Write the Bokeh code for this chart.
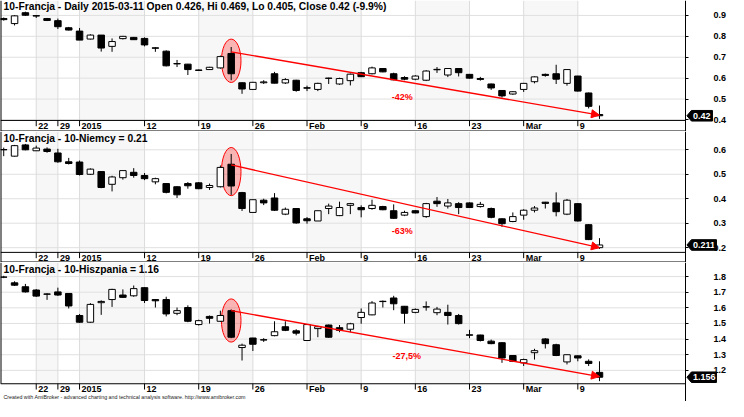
from bokeh.plotting import figure
from bokeh.layouts import column
from bokeh.models import (Range1d, FixedTicker, PrintfTickFormatter, ColumnDataSource,
                          Arrow, NormalHead)
from bokeh.embed import file_html
from bokeh.resources import INLINE
from bokeh.core.properties import value

# ---------------- data ----------------
dates = ["2014-12-17", "2014-12-18", "2014-12-19", "2014-12-22", "2014-12-23", "2014-12-29", "2014-12-30",
         "2015-01-02", "2015-01-05", "2015-01-06", "2015-01-07", "2015-01-08", "2015-01-09",
         "2015-01-12", "2015-01-13", "2015-01-14", "2015-01-15", "2015-01-16",
         "2015-01-19", "2015-01-20", "2015-01-21", "2015-01-22", "2015-01-23",
         "2015-01-26", "2015-01-27", "2015-01-28", "2015-01-29", "2015-01-30",
         "2015-02-02", "2015-02-03", "2015-02-04", "2015-02-05", "2015-02-06",
         "2015-02-09", "2015-02-10", "2015-02-11", "2015-02-12", "2015-02-13",
         "2015-02-16", "2015-02-17", "2015-02-18", "2015-02-19", "2015-02-20",
         "2015-02-23", "2015-02-24", "2015-02-25", "2015-02-26", "2015-02-27",
         "2015-03-02", "2015-03-03", "2015-03-04", "2015-03-05", "2015-03-06",
         "2015-03-09", "2015-03-10", "2015-03-11"]

week_dates = ["2014-12-22", "2014-12-29", "2015-01-02", "2015-01-12", "2015-01-19", "2015-01-26",
              "2015-02-02", "2015-02-09", "2015-02-16", "2015-02-23", "2015-03-02", "2015-03-09"]
week_labels = ["22", "29", "2015", "12", "19", "26", "Feb", "9", "16", "23", "Mar", "9"]

# 10-Francja
fr_open = [0.885, 0.861, 0.913, 0.899, 0.885, 0.875, 0.841, 0.825, 0.787, 0.806, 0.752, 0.789, 0.795, 0.790,
           0.745, 0.729, 0.668, 0.667, 0.639, 0.641, 0.649, 0.718, 0.578, 0.546, 0.578, 0.621, 0.577, 0.590,
           0.554, 0.546, 0.600, 0.572, 0.588, 0.626, 0.621, 0.646, 0.621, 0.603, 0.595, 0.590, 0.640, 0.615,
           0.646, 0.618, 0.598, 0.572, 0.541, 0.524, 0.546, 0.583, 0.618, 0.621, 0.575, 0.610, 0.529, 0.426]
fr_high = [0.890, 0.902, 0.918, 0.901, 0.888, 0.885, 0.845, 0.840, 0.810, 0.806, 0.790, 0.802, 0.797, 0.795,
           0.748, 0.733, 0.687, 0.668, 0.641, 0.654, 0.708, 0.749, 0.580, 0.582, 0.590, 0.630, 0.600, 0.592,
           0.564, 0.578, 0.602, 0.602, 0.622, 0.630, 0.655, 0.648, 0.626, 0.609, 0.614, 0.638, 0.653, 0.647,
           0.648, 0.620, 0.606, 0.574, 0.543, 0.537, 0.577, 0.608, 0.622, 0.664, 0.642, 0.611, 0.531, 0.469]
fr_low = [0.875, 0.852, 0.898, 0.888, 0.873, 0.835, 0.828, 0.782, 0.785, 0.727, 0.726, 0.785, 0.783, 0.752,
          0.726, 0.656, 0.653, 0.615, 0.636, 0.640, 0.645, 0.590, 0.525, 0.544, 0.572, 0.575, 0.572, 0.535,
          0.538, 0.538, 0.572, 0.568, 0.565, 0.605, 0.618, 0.628, 0.590, 0.590, 0.590, 0.586, 0.625, 0.605,
          0.608, 0.598, 0.588, 0.544, 0.507, 0.520, 0.534, 0.575, 0.607, 0.572, 0.564, 0.536, 0.455, 0.405]
fr_close = [0.880, 0.898, 0.901, 0.897, 0.876, 0.846, 0.830, 0.782, 0.806, 0.744, 0.775, 0.800, 0.784, 0.759,
            0.743, 0.659, 0.670, 0.641, 0.637, 0.652, 0.703, 0.621, 0.548, 0.580, 0.582, 0.576, 0.593, 0.541,
            0.552, 0.575, 0.599, 0.598, 0.619, 0.607, 0.649, 0.630, 0.592, 0.595, 0.610, 0.634, 0.642, 0.646,
            0.626, 0.600, 0.594, 0.553, 0.515, 0.535, 0.575, 0.606, 0.613, 0.595, 0.641, 0.538, 0.465, 0.420]

# 10-Francja - 10-Niemcy
de_open = [0.600, 0.574, 0.620, 0.596, 0.603, 0.587, 0.551, 0.550, 0.500, 0.511, 0.459, 0.486, 0.508, 0.495,
           0.469, 0.462, 0.449, 0.462, 0.465, 0.446, 0.449, 0.541, 0.425, 0.344, 0.394, 0.403, 0.337, 0.360,
           0.318, 0.309, 0.360, 0.331, 0.373, 0.364, 0.360, 0.368, 0.351, 0.333, 0.351, 0.327, 0.390, 0.370,
           0.380, 0.383, 0.368, 0.360, 0.318, 0.307, 0.333, 0.353, 0.386, 0.383, 0.337, 0.380, 0.294, 0.200]
de_high = [0.609, 0.620, 0.624, 0.617, 0.610, 0.604, 0.567, 0.556, 0.524, 0.513, 0.494, 0.515, 0.525, 0.505,
           0.486, 0.464, 0.451, 0.468, 0.468, 0.462, 0.536, 0.583, 0.428, 0.396, 0.400, 0.423, 0.364, 0.362,
           0.325, 0.351, 0.380, 0.388, 0.383, 0.373, 0.396, 0.371, 0.377, 0.351, 0.353, 0.383, 0.407, 0.399,
           0.386, 0.385, 0.387, 0.364, 0.320, 0.344, 0.357, 0.370, 0.387, 0.426, 0.399, 0.382, 0.296, 0.239]
de_low = [0.574, 0.572, 0.598, 0.595, 0.588, 0.547, 0.540, 0.495, 0.498, 0.443, 0.430, 0.478, 0.486, 0.476,
          0.459, 0.422, 0.403, 0.441, 0.439, 0.436, 0.446, 0.416, 0.350, 0.344, 0.374, 0.350, 0.333, 0.298,
          0.298, 0.309, 0.337, 0.329, 0.337, 0.324, 0.355, 0.353, 0.318, 0.329, 0.340, 0.322, 0.367, 0.360,
          0.337, 0.362, 0.364, 0.320, 0.285, 0.304, 0.314, 0.344, 0.360, 0.328, 0.333, 0.307, 0.231, 0.195]
de_close = [0.601, 0.617, 0.600, 0.607, 0.593, 0.551, 0.544, 0.499, 0.521, 0.446, 0.489, 0.515, 0.495, 0.482,
            0.482, 0.426, 0.416, 0.453, 0.441, 0.454, 0.528, 0.452, 0.360, 0.396, 0.383, 0.353, 0.357, 0.301,
            0.310, 0.351, 0.370, 0.364, 0.380, 0.355, 0.373, 0.355, 0.320, 0.344, 0.342, 0.380, 0.380, 0.383,
            0.364, 0.364, 0.377, 0.324, 0.298, 0.327, 0.353, 0.362, 0.381, 0.347, 0.394, 0.309, 0.233, 0.211]

# 10-Francja - 10-Hiszpania
es_open = [1.796, 1.760, 1.735, 1.714, 1.689, 1.702, 1.692, 1.551, 1.508, 1.633, 1.653, 1.682, 1.677, 1.729,
           1.653, 1.653, 1.565, 1.602, 1.493, 1.545, 1.514, 1.582, 1.346, 1.407, 1.396, 1.422, 1.479, 1.453,
           1.391, 1.467, 1.490, 1.473, 1.463, 1.538, 1.555, 1.642, 1.663, 1.610, 1.571, 1.605, 1.569, 1.571,
           1.551, 1.427, 1.426, 1.387, 1.377, 1.295, 1.248, 1.313, 1.401, 1.364, 1.254, 1.293, 1.258, 1.187]
es_high = [1.805, 1.770, 1.753, 1.720, 1.693, 1.729, 1.694, 1.560, 1.630, 1.648, 1.722, 1.718, 1.743, 1.731,
           1.654, 1.671, 1.602, 1.616, 1.524, 1.551, 1.582, 1.590, 1.371, 1.408, 1.406, 1.514, 1.514, 1.463,
           1.493, 1.485, 1.493, 1.490, 1.504, 1.596, 1.643, 1.647, 1.677, 1.612, 1.596, 1.641, 1.606, 1.620,
           1.561, 1.459, 1.428, 1.397, 1.380, 1.297, 1.275, 1.338, 1.406, 1.370, 1.300, 1.295, 1.270, 1.258]
es_low = [1.790, 1.740, 1.698, 1.670, 1.651, 1.676, 1.596, 1.504, 1.504, 1.555, 1.606, 1.663, 1.671, 1.631,
          1.602, 1.545, 1.553, 1.508, 1.487, 1.499, 1.510, 1.406, 1.263, 1.324, 1.382, 1.418, 1.451, 1.424,
          1.388, 1.412, 1.408, 1.444, 1.444, 1.498, 1.553, 1.602, 1.585, 1.499, 1.565, 1.582, 1.553, 1.493,
          1.493, 1.406, 1.385, 1.367, 1.248, 1.253, 1.228, 1.269, 1.340, 1.291, 1.238, 1.258, 1.228, 1.131]
es_close = [1.797, 1.745, 1.702, 1.675, 1.687, 1.682, 1.612, 1.508, 1.622, 1.641, 1.718, 1.667, 1.723, 1.647,
            1.645, 1.561, 1.582, 1.514, 1.518, 1.533, 1.551, 1.412, 1.361, 1.367, 1.394, 1.447, 1.456, 1.438,
            1.493, 1.479, 1.412, 1.456, 1.498, 1.571, 1.631, 1.640, 1.626, 1.565, 1.590, 1.607, 1.592, 1.551,
            1.499, 1.425, 1.391, 1.371, 1.279, 1.258, 1.269, 1.326, 1.371, 1.295, 1.300, 1.279, 1.244, 1.156]

titles = ["10-Francja - Daily 2015-03-11 Open 0.426, Hi 0.469, Lo 0.405, Close 0.42 (-9.9%)",
          "10-Francja - 10-Niemcy = 0.21",
          "10-Francja - 10-Hiszpania = 1.16"]
ticks_fr = [0.4, 0.5, 0.6, 0.7, 0.8, 0.9]
ticks_de = [0.2, 0.3, 0.4, 0.5, 0.6]
ticks_es = [1.2, 1.3, 1.4, 1.5, 1.6, 1.7, 1.8]

# annotated moves (from the 2015-01-22 bar to the last bar)
trend_x = [21, 55]
trend_fr = [0.726, 0.423]
trend_de = [0.538, 0.200]
trend_es = [1.582, 1.160]
circle_fr = 0.683
circle_de = 0.511
circle_es = 1.519
pct_labels = ["-42%", "-63%", "-27,5%"]
pct_x = [36.8, 36.8, 37.2]
pct_y = [0.511, 0.268, 1.289]
last_labels = ["0.42", "0.211", "1.156"]
last_values = [0.420, 0.211, 1.156]
footer = "Created with AmiBroker - advanced charting and technical analysis software. http://www.amibroker.com"

# ---------------- layout ----------------
FONT = "Liberation Sans"
FIG_W = 728
REF_PX = 11.07            # bar spacing in the original picture
XS = -3.3 / REF_PX        # left edge of the picture
XE = (744 - 3.3) / REF_PX  # right edge of the picture
XA = (700 - 3.3) / REF_PX  # price-axis line
PPI = FIG_W / (XE - XS)
idx = list(range(len(dates)))
week_idx = [dates.index(d) for d in week_dates]


def pane(h, ymap, top_px, bottom_px, axis_px, date_px, title_px, ticks, O, H, L, C, title,
         trend_y, circle_c, circle_h_px, k, bottom_sep=True, foot=False):
    y0, y1 = ymap(bottom_px), ymap(top_px)
    vpp = ymap(0) - ymap(1)
    axis_v = ymap(axis_px)
    p = figure(width=FIG_W, height=h, x_range=Range1d(XS, XE), y_range=Range1d(y0, y1),
               y_axis_location="right", x_axis_location=None, toolbar_location=None,
               output_backend="svg", min_border_left=0, min_border_right=0,
               min_border_top=0, min_border_bottom=0,
               background_fill_color="white", border_fill_color="white")
    p.outline_line_color = None
    for g in p.xgrid:
        g.visible = False
    for g in p.ygrid:
        g.visible = False
    ax = p.yaxis[0]
    ax.fixed_location = XA
    ax.ticker = FixedTicker(ticks=ticks)
    ax.formatter = PrintfTickFormatter(format="%.1f")
    ax.axis_line_color = "#000000"
    ax.major_tick_line_color = "#000000"
    ax.major_tick_out = 3
    ax.major_tick_in = 0
    ax.minor_tick_line_color = None
    ax.major_label_standoff = 25
    ax.major_label_text_font = FONT
    ax.major_label_text_font_size = "9px"
    ax.major_label_text_font_style = "bold"
    ax.major_label_text_color = "#000000"

    # alternate week shading
    sr = [week_idx[i + 1] for i in range(0, len(week_idx) - 1, 2)]
    sl = week_idx[0::2][:len(sr)]
    p.quad(left=sl, right=sr, bottom=axis_v, top=y1, fill_color="#000000", fill_alpha=0.03,
           line_color=None)
    # horizontal price grid
    p.segment(x0=[XS] * len(ticks), y0=ticks, x1=[XA] * len(ticks), y1=ticks,
              line_color="#e0e0e0", line_width=1)
    # vertical week grid
    p.segment(x0=week_idx, y0=[axis_v] * len(week_idx), x1=week_idx, y1=[y1] * len(week_idx),
              line_color="#dcdcdc", line_width=1)

    # highlight circle
    p.ellipse(x=[trend_x[0]], y=[circle_c], width=20 / REF_PX, height=circle_h_px * vpp,
              fill_color="#ff0000", fill_alpha=0.27, line_color="#ff0000", line_width=1)

    # candles
    src = ColumnDataSource(dict(
        x=idx, o=O, h=H, l=L, c=C,
        top=[max(a, b) for a, b in zip(O, C)],
        bot=[min(a, b) for a, b in zip(O, C)],
        fill=["#ffffff" if c >= o else "#000000" for o, c in zip(O, C)]))
    p.segment(x0="x", y0="l", x1="x", y1="h", source=src, line_color="#000000", line_width=1)
    p.vbar(x="x", width=0.6, top="top", bottom="bot", fill_color="fill", line_color="#000000",
           line_width=1, source=src)

    # trend arrow
    p.add_layout(Arrow(x_start=trend_x[0], y_start=trend_y[0], x_end=trend_x[1], y_end=trend_y[1],
                       line_color="#ff0000", line_width=1.3,
                       end=NormalHead(size=8, fill_color="#ff0000", line_color="#ff0000")))
    p.text(x=[pct_x[k]], y=[pct_y[k]], text=[pct_labels[k]], text_font=value(FONT),
           text_font_size="9px", text_font_style="bold", text_color="#ff0000",
           text_align="center", text_baseline="middle")

    # frame lines: bottom axis line, left border, pane separator
    p.segment(x0=[XS], y0=[axis_v], x1=[XA], y1=[axis_v], line_color="#000000", line_width=1)
    p.segment(x0=[XS], y0=[axis_v if foot else y0], x1=[XS], y1=[y1], line_color="#000000",
              line_width=2)
    if bottom_sep:
        p.segment(x0=[XS], y0=[y0], x1=[XA], y1=[y0], line_color="#000000", line_width=2)

    # date ticks and labels
    p.segment(x0=week_idx, y0=[axis_v] * len(week_idx), x1=week_idx,
              y1=[axis_v - 6 * vpp] * len(week_idx), line_color="#000000", line_width=1)
    p.text(x=week_idx, y=[ymap(date_px)] * len(week_idx), text=week_labels, x_offset=2,
           text_font=value(FONT), text_font_size="9px", text_font_style="bold",
           text_color="#000000", text_align="left", text_baseline="middle")

    # title
    p.text(x=[XS], y=[ymap(title_px)], text=[title], x_offset=3, text_font=value(FONT),
           text_font_size="10.3px", text_font_style="bold", text_color="#000000",
           text_align="left", text_baseline="top")
    if foot:
        p.text(x=[XS], y=[ymap(412)], text=[footer], x_offset=3, text_font=value(FONT),
               text_font_size="5.3px", text_color="#222222", text_align="left",
               text_baseline="middle")

    # last value marker on the price axis
    cv = last_values[k]
    bw = 27 if len(last_labels[k]) <= 4 else 31
    hh = 5.5 * vpp
    p.patch(x=[XA + 1.5 / PPI, XA + 6 / PPI, XA + bw / PPI, XA + bw / PPI, XA + 6 / PPI],
            y=[cv, cv + hh, cv + hh, cv - hh, cv - hh],
            fill_color="#000000", line_color="#000000", line_width=1)
    p.text(x=[XA + 7.5 / PPI], y=[cv], text=[last_labels[k]], text_color="#ffffff",
           text_font=value(FONT), text_font_size="9px", text_font_style="bold",
           text_align="left", text_baseline="middle")
    return p


p1 = pane(131, lambda y: 0.4 + (124 - y) / 217, 0, 136, 124.5, 130, 1, ticks_fr,
          fr_open, fr_high, fr_low, fr_close, titles[0], trend_fr, circle_fr, 45, 0)
p2 = pane(131, lambda y: 0.6 - (y - 155) / 254, 136, 272, 261.5, 267, 137.5, ticks_de,
          de_open, de_high, de_low, de_close, titles[1], trend_de, circle_de, 50, 1)
p3 = pane(139, lambda y: 1.8 - (y - 286.7) / 163, 272, 417, 398.5, 404, 274, ticks_es,
          es_open, es_high, es_low, es_close, titles[2], trend_es, circle_es, 45, 2,
          bottom_sep=False, foot=True)

layout = column(p1, p2, p3, spacing=0)
open("out.html", "w").write(file_html(layout, INLINE))
